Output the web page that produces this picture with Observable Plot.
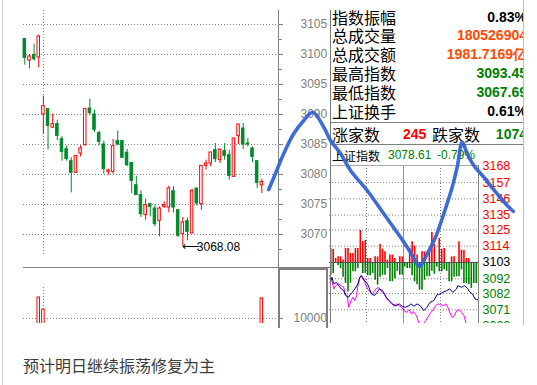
<!DOCTYPE html>
<html><head><meta charset="utf-8">
<script src="https://cdn.jsdelivr.net/npm/d3@7"></script>
<script src="https://cdn.jsdelivr.net/npm/@observablehq/plot@0.6"></script>
<style>
html,body{margin:0;padding:0;background:#fff;}
#page{position:relative;width:537px;height:385px;overflow:hidden;font-family:"Liberation Sans",Arial,sans-serif;}
.abs{position:absolute;}
.cjk{font-family:"Noto Sans CJK SC","Noto Sans",sans-serif;}
.row{position:absolute;left:0;right:0;height:19px;line-height:19px;white-space:nowrap;}
.lab{position:absolute;left:1px;font-size:16px;color:#000;}
.val{position:absolute;right:-4px;font-size:14px;font-weight:bold;}
</style></head><body><div id="page"></div>
<script>
// ---------- data ----------
const candleOpen = [3102.56,3099.00,3099.89,3099.50,3090.00,3090.89,3087.83,3088.39,3085.89,3084.22,
 3082.22,3080.28,3083.50,3084.89,3091.00,3090.00,3086.89,3085.00,3080.44,3080.44,
 3085.56,3085.56,3083.61,3081.94,3078.22,3076.56,3073.22,3075.06,3074.33,3072.28,
 3074.61,3074.50,3077.22,3074.06,3070.06,3072.22,3070.17,3077.67,3075.06,3081.44,
 3081.83,3084.06,3082.39,3083.89,3083.22,3079.61,3086.39,3087.67,3085.17,3084.33,
 3082.22,3078.17];
const candleClose = [3099.44,3099.67,3099.22,3103.00,3091.39,3088.11,3088.39,3086.44,3083.78,3082.56,
 3080.28,3083.06,3084.33,3090.89,3090.22,3087.44,3085.44,3080.89,3080.67,3084.72,
 3085.00,3082.78,3081.56,3078.94,3076.56,3073.39,3074.89,3074.61,3071.72,3074.33,
 3074.89,3077.67,3074.50,3069.78,3072.00,3070.44,3077.28,3075.17,3081.44,3081.83,
 3083.67,3082.56,3084.17,3083.11,3079.78,3086.00,3088.33,3085.00,3085.00,3082.94,
 3078.61,3078.78];
const candleHigh = [3102.60,3100.00,3101.72,3103.22,3093.06,3090.89,3090.06,3089.06,3086.33,3084.78,
 3082.78,3083.06,3084.78,3091.06,3092.56,3090.72,3087.22,3085.56,3080.89,3085.83,
 3087.22,3085.56,3084.17,3081.94,3079.72,3077.28,3075.89,3075.06,3074.89,3074.61,
 3075.44,3078.06,3077.94,3074.06,3072.83,3072.78,3077.56,3077.67,3081.44,3082.39,
 3083.67,3085.17,3084.17,3085.17,3084.06,3086.00,3088.33,3088.50,3086.00,3084.61,
 3082.22,3079.22];
const candleLow = [3098.22,3097.60,3098.89,3097.78,3086.72,3084.06,3087.67,3085.61,3082.22,3082.22,
 3076.94,3080.28,3082.94,3084.72,3089.78,3087.00,3084.78,3080.06,3079.89,3080.06,
 3084.78,3082.78,3081.28,3076.83,3076.56,3072.83,3072.39,3072.94,3071.28,3069.61,
 3074.33,3073.61,3073.61,3069.50,3068.08,3068.94,3070.17,3074.72,3074.06,3080.72,
 3081.28,3082.00,3081.83,3082.39,3079.06,3079.50,3085.00,3084.17,3084.61,3081.94,
 3077.67,3076.83];
const priceTicks = [3070,3075,3080,3085,3090,3095,3100,3105];
const priceMinorTicks = [3067.5,3070,3072.5,3075,3077.5,3080,3082.5,3085,3087.5,3090,3092.5,3095,3097.5,3100,3102.5,3105];
const separatorCandle = [5];
const lowCandle = 35, lowValue = 3068.08;
const volumeCandles = [4,5,52];
const volumeValues = [27500,17500,26700];
const volumeTicks = [10000];

const tableLabels = ["指数振幅","总成交量","总成交额","最高指数","最低指数","上证换手"];
const tableValues = ["0.83%","180526904","1981.7169亿","3093.45","3067.69","0.61%"];
const advLabel = "涨家数", advValue = "245", decLabel = "跌家数", decValue = "1074";
const idxLabel = "上证指数", idxValue = "3078.61", idxChange = "-0.79%";

const miniPrevClose = 3103;
const miniTickLabels = [3168,3157,3146,3135,3125,3114,3103,3092,3082,3071,3060];
const navyMinute = [1,4,7,11,15,19,23,26,31,33,37,41,46,49,52,56,60,63,68,73,77,81,86,92,97,102,108,113,118,123,129,132,137,142,147,153,158,163,169,174,179,184,190,195,200,206,208,214,219,224,227,232,236,240];
const navyValue = [3089.6,3093.0,3088.5,3089.6,3087.35,3085.1,3084.0,3080.6,3079.5,3081.0,3082.8,3085.1,3088.5,3093.0,3094.1,3090.7,3089.6,3087.35,3081.7,3080.6,3082.8,3085.1,3084.0,3079.5,3077.2,3075.0,3073.8,3075.0,3073.4,3072.7,3073.8,3075.0,3073.4,3075.0,3073.8,3070.45,3072.7,3076.1,3077.2,3081.0,3081.7,3082.8,3084.0,3085.1,3082.8,3085.1,3087.35,3086.2,3087.35,3085.5,3083.3,3081.7,3078.3,3077.9];
const magentaMinute = [0,3,7,10,15,19,23,26,29,31,35,38,41,44,46,49,51,56,59,62,66,70,73,78,82,85,89,93,98,101,105,109,113,117,121,125,129,133,136,141,145,148,152,156,161,164,168,172,176,180,185,189,192,196,199,203,206,210,214,218,222,225];
const magentaValue = [3094.1,3091.9,3085.1,3087.35,3088.5,3087.35,3086.2,3081.7,3080.6,3072.7,3077.2,3079.5,3077.2,3080.6,3087.35,3091.9,3094.1,3091.9,3087.35,3085.1,3082.8,3081.7,3084.0,3086.2,3085.1,3082.8,3081.7,3078.3,3076.1,3075.0,3073.4,3075.0,3073.8,3072.7,3070.45,3069.3,3071.1,3068.2,3069.8,3067.1,3062.1,3060.3,3061.4,3063.7,3067.1,3068.9,3071.1,3073.8,3075.0,3074.5,3073.8,3075.0,3072.7,3068.2,3065.9,3067.1,3070.45,3071.1,3069.3,3067.1,3061.4,3058.1];
const breadthUp = [9.5,8.8,2.7,3.8,3.8,1.6,9.5,9.5,6.1,6.1, 9.5,9.5,21.6,14,15,2.7,2.7,0,3.8,3.8,
 12.2,9,7.2,1.6,5,5,2.7,0,3.8,3.8, 0,0,9.5,14,11,5,0,7.2,7.2,0, 7.2,20.3,12,0,16.2,9,9.5,0,0,3.8, 3.8,0,14,8.3,8.3,2.7,2.7,0,0,0];
const breadthDown = [8.6,7.4,0,2,4.1,10,14.2,20,14,6.3, 6.3,4,0,7.4,7.4,9,9,7.4,12,15.3,
 10,8.6,8.6,4,13,13,11,6,8.6,8.6, 3,4.1,4.1,9,13,15,18.7,18.7,12,9.7, 9.7,6,8,3,6.3,6.3,5,6,13,13, 10,9.7,9.7,5,14.2,14.2,15,17.6,14.2,14.2];
const breadthSlotMinutes = 4;

const sketchCandleX = [53.49,54.95,56.73,58.89,61.04,62.98,65.34,66.78,68.94,71.09,74.68,78.25,81.85,84.0,85.94,87.59,89.38,91.16,92.97,94.05,95.12,96.2,97.62,99.77,102.66,104.81,106.1];
const sketchIndexY = [3077.5,3080.17,3083.5,3086.83,3089.0,3090.38,3087.88,3085.67,3083.5,3080.67,3077.33,3073.45,3069.55,3067.05,3064.67,3066.78,3069.55,3073.45,3077.88,3081.22,3085.38,3083.45,3081.5,3079.55,3076.78,3074.83,3073.88];

const captionText = "预计明日继续振荡修复为主";

// ---------- styles ----------
const RED = "#ff0000", GREEN = "#008a2a", GRAY = "#808080";
const page = document.getElementById("page");
function box(css, parent = page) { const d = document.createElement("div"); d.className = "abs"; d.style.cssText = css; parent.appendChild(d); return d; }
function holder(l, t, w, h, node) { const d = box(`left:${l}px;top:${t}px;width:${w}px;height:${h}px;overflow:hidden;`); d.appendChild(node); return d; }

const candles = candleOpen.map((o, k) => ({i: k + 1, open: o, close: candleClose[k], high: candleHigh[k], low: candleLow[k], up: candleClose[k] >= o}));
const xPrice = {domain: [1, 52], range: [24.3, 261.3]};
const yPrice = {domain: [3070, 3105], range: [234, 24]};
const tf = d => String(d);

box("left:2px;top:0;width:1px;height:385px;background:#d2d2d2;");

const price = Plot.plot({
  width: 330, height: 268, marginLeft: 23, marginRight: 52, marginTop: 10, marginBottom: 1,
  x: {...xPrice, axis: null}, y: {...yPrice, label: null},
  color: {type: "identity"},
  style: {background: "transparent", fontFamily: "Liberation Sans, Arial, sans-serif", overflow: "visible"},
  marks: [
    Plot.ruleY(priceTicks, {stroke: GRAY, strokeDasharray: "1,2"}),
    Plot.ruleX(separatorCandle, {stroke: GRAY, strokeDasharray: "1,2", insetBottom: 12}),
    Plot.axisY({anchor: "right", label: null, ticks: priceMinorTicks, tickSize: 3, tickFormat: () => "", color: GRAY}),
    Plot.axisY({anchor: "right", label: null, ticks: priceTicks, tickSize: 4, tickPadding: 18, fontSize: 12, color: GRAY, tickFormat: tf}),
    Plot.ruleX(candles, {x: "i", y1: "low", y2: "high", stroke: d => d.up ? RED : GREEN}),
    Plot.rect(candles, {x1: d => d.i - 0.27, x2: d => d.i + 0.27, y1: "open", y2: "close",
      fill: d => d.up ? "#ffffff" : GREEN, stroke: d => d.up ? RED : GREEN}),
    Plot.text([{i: lowCandle, v: lowValue}], {x: "i", y: "v", text: () => "⟵",
      textAnchor: "start", fontSize: 12, fontFamily: "DejaVu Sans", fill: "#000", dx: -1, dy: 0}),
    Plot.text([{i: lowCandle, v: lowValue}], {x: "i", y: "v", text: d => d.v.toFixed(2),
      textAnchor: "start", fontSize: 12, fill: "#000", dx: 14, dy: 1})
  ]
});
holder(0, 0, 330, 268, price);

box(`left:278px;top:268px;width:50px;height:60px;box-sizing:border-box;border-left:2px solid ${GRAY};border-top:2px solid ${GRAY};border-right:2px solid ${GRAY};`);

const vols = volumeCandles.map((c, k) => ({i: c, v: volumeValues[k]}));
const vol = Plot.plot({
  width: 330, height: 58, marginLeft: 23, marginRight: 52, marginTop: 0, marginBottom: 2,
  x: {...xPrice, axis: null}, y: {domain: [0, 10000], range: [63, 51], label: null},
  style: {background: "transparent", fontFamily: "Liberation Sans, Arial, sans-serif"},
  marks: [
    Plot.ruleY(volumeTicks, {stroke: GRAY, strokeDasharray: "1,2"}),
    Plot.ruleX(separatorCandle, {stroke: GRAY, strokeDasharray: "1,2", insetTop: 20, insetBottom: 5}),
    Plot.rect(vols, {x1: d => d.i - 0.27, x2: d => d.i + 0.27, y1: 0, y2: "v", fill: "#ffffff", stroke: RED}),
    Plot.axisY({anchor: "right", label: null, ticks: volumeTicks, tickSize: 4, tickPadding: 11, fontSize: 12, color: GRAY, tickFormat: tf})
  ]
});
holder(0, 267, 330, 56, vol);

box(`left:278px;top:10px;width:1px;height:313px;background:${GRAY};`);
box(`left:23px;top:267px;width:307px;height:1px;background:${GRAY};`);

// mini intraday chart (holder starts 15px above the chart top so its top label is not cut)
const navy = navyMinute.map((m, k) => ({m, v: navyValue[k]}));
const magenta = magentaMinute.map((m, k) => ({m, v: magentaValue[k]}));
const ups = breadthUp.map((v, k) => ({m: k * breadthSlotMinutes + 2, v}));
const downs = breadthDown.map((v, k) => ({m: k * breadthSlotMinutes + 2, v}));
const miniLabels = miniTickLabels.map(v => ({v, c: v > miniPrevClose ? "#ff0000" : v < miniPrevClose ? "#008000" : "#000000"}));
const mini = Plot.plot({
  width: 194, height: 173, marginLeft: 0, marginRight: 45, marginTop: 15, marginBottom: 0,
  x: {domain: [0, 240], range: [0, 148], axis: null},
  y: {domain: [3060, 3168], range: [175.6, 15.8], axis: null},
  color: {type: "identity"},
  style: {background: "transparent", fontFamily: "Liberation Sans, Arial, sans-serif"},
  marks: [
    Plot.ruleY(miniTickLabels.filter(v => v !== miniPrevClose && v !== 3168), {stroke: GRAY, strokeDasharray: "1,2"}),
    Plot.ruleX([60, 180], {stroke: GRAY, strokeDasharray: "1,2"}),
    Plot.ruleX([120], {stroke: "#909090"}),
    Plot.ruleX(ups.filter(d => d.v > 0), {x: "m", y1: miniPrevClose, y2: d => miniPrevClose + d.v, stroke: "#ff0000", strokeWidth: 1.6}),
    Plot.ruleX(downs.filter(d => d.v > 0), {x: "m", y1: miniPrevClose, y2: d => miniPrevClose - d.v, stroke: "#008000", strokeWidth: 1.6}),
    Plot.ruleY([miniPrevClose], {stroke: "#505050"}),
    Plot.line(magenta, {x: "m", y: "v", stroke: "#ff00ff", strokeWidth: 1}),
    Plot.line(navy, {x: "m", y: "v", stroke: "#000080", strokeWidth: 1}),
    Plot.text(miniLabels, {y: "v", text: d => String(d.v), frameAnchor: "right", textAnchor: "start", dx: 4, fontSize: 12.5, fill: "c"})
  ]
});
holder(329, 150, 194, 173, mini);

// info table
box("left:330px;top:10px;width:1px;height:313px;background:#7a7a7a;");
const tbl = box(`left:331px;top:0;width:192px;height:323px;overflow:hidden;`);
const valueColors = ["#000000", "#ff4a00", "#ff4a00", "#008000", "#008000", "#000000"];
tableLabels.forEach((lab, k) => {
  const r = box(`top:${7.5 + 18.8 * k}px;`, tbl); r.className = "row";
  r.innerHTML = `<span class="lab cjk">${lab}</span><span class="val" style="color:${valueColors[k]}">${tableValues[k]}</span>`;
});
box(`left:0;top:122px;width:192px;height:1px;background:${GRAY};`, tbl);
const adv = box("top:124.5px;", tbl); adv.className = "row";
adv.innerHTML = `<span class="lab cjk">${advLabel}</span><span class="abs" style="left:72px;font-size:14px;font-weight:bold;color:#ff0000">${advValue}</span><span class="abs cjk" style="left:101px;font-size:16px;color:#000">${decLabel}</span><span class="val" style="color:#008000">${decValue}</span>`;
box(`left:0;top:144px;width:192px;height:1px;background:${GRAY};`, tbl);
const hdr = box("top:146px;", tbl); hdr.className = "row";
hdr.innerHTML = `<span class="abs cjk" style="left:1px;font-size:12px;color:#000">${idxLabel}</span><span class="abs" style="left:57px;font-size:12px;color:#008000">${idxValue}</span><span class="abs" style="left:106px;font-size:12px;color:#008000">${idxChange}</span>`;
box("left:0;top:165px;width:147px;height:1px;background:#a8a8a8;", tbl);
box(`left:147px;top:165px;width:1px;height:160px;background:${GRAY};`, tbl);
box("left:523px;top:0;width:1px;height:325px;background:#bdbdbd;");

// hand-drawn blue sketch
const sketch = sketchCandleX.map((i, k) => ({i, v: sketchIndexY[k]}));
const overlay = Plot.plot({
  width: 537, height: 330, margin: 0,
  x: {...xPrice, axis: null}, y: {...yPrice, axis: null},
  style: {background: "transparent", overflow: "visible"},
  marks: [Plot.line(sketch, {x: "i", y: "v", stroke: "#3464d4", strokeWidth: 3.6, curve: "catmull-rom", strokeLinecap: "round", strokeLinejoin: "round", strokeOpacity: 0.95})]
});
const ov = box("left:0;top:0;width:537px;height:330px;pointer-events:none;"); ov.appendChild(overlay);

const cap = box("left:23px;top:356px;font-size:16px;line-height:18px;color:#3c3c3c;white-space:nowrap;");
cap.className = "abs cjk"; cap.textContent = captionText;
</script></body></html>
